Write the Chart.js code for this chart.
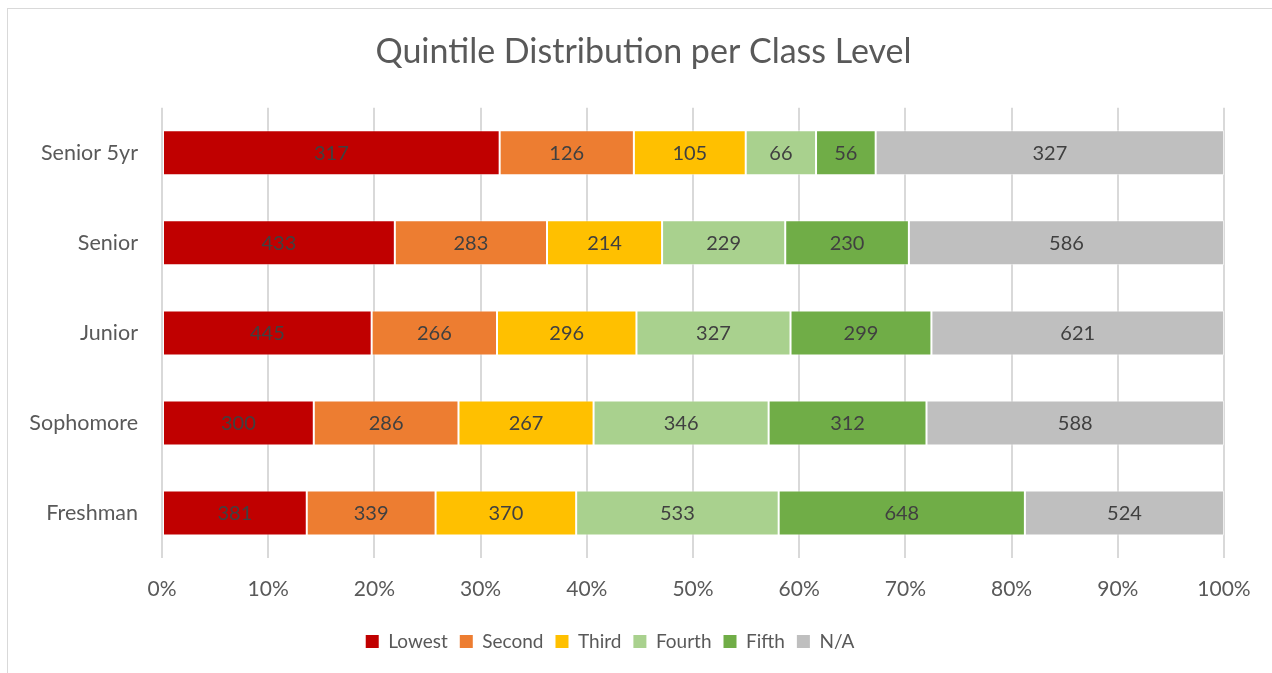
<!DOCTYPE html>
<html>
<head>
<meta charset="utf-8">
<script src="https://cdn.jsdelivr.net/npm/chart.js@4/dist/chart.umd.min.js"></script>
<style>
  html, body { margin: 0; padding: 0; background: #fff; overflow: hidden; }
  #frame { position: absolute; left: 7px; top: 8px; width: 1400px; height: 800px; border: 1px solid #d9d9d9; box-sizing: border-box; }
  #wrap { position: absolute; left: 0; top: 0; width: 1272px; height: 673px; }
</style>
</head>
<body>
<div id="frame"></div>
<div id="wrap"><canvas id="c" width="1272" height="673"></canvas></div>
<script>
const categories = ['Senior 5yr', 'Senior', 'Junior', 'Sophomore', 'Freshman'];
const lowest = [317, 433, 445, 300, 381];
const second = [126, 283, 266, 286, 339];
const third  = [105, 214, 296, 267, 370];
const fourth = [66, 229, 327, 346, 533];
const fifth  = [56, 230, 299, 312, 648];
const na     = [327, 586, 621, 588, 524];
const seriesNames = ['Lowest', 'Second', 'Third', 'Fourth', 'Fifth', 'N/A'];
const seriesColors = ['#C00000', '#ED7D31', '#FFC000', '#A9D18E', '#70AD47', '#BFBFBF'];
const xTickValues = [0, 10, 20, 30, 40, 50, 60, 70, 80, 90, 100];

const FONT = 'Lato, "Open Sans", sans-serif';
const counts = [lowest, second, third, fourth, fifth, na];
const totals = categories.map((_, i) => counts.reduce((s, arr) => s + arr[i], 0));

const datasets = counts.map((arr, k) => ({
  label: seriesNames[k],
  data: arr.map((v, i) => v / totals[i] * 100),
  raw: arr,
  backgroundColor: seriesColors[k],
  borderColor: 'rgba(255,255,255,0.55)',
  borderWidth: 1,
  borderSkipped: false,
  barPercentage: 0.5,
  categoryPercentage: 1.0,
  yAxisID: 'y'
}));

const valueLabels = {
  id: 'valueLabels',
  afterDatasetsDraw(chart) {
    const ctx = chart.ctx;
    ctx.save();
    ctx.font = '20px ' + FONT;
    ctx.fillStyle = '#404040';
    ctx.textAlign = 'center';
    ctx.textBaseline = 'middle';
    chart.data.datasets.forEach((ds, di) => {
      const meta = chart.getDatasetMeta(di);
      meta.data.forEach((bar, i) => {
        const cx = (bar.x + bar.base) / 2;
        ctx.fillText(String(ds.raw[i]), cx, bar.y + 1);
      });
    });
    ctx.restore();
  }
};

const legendShift = {
  id: 'legendShift',
  afterLayout(chart) {
    const lg = chart.legend;
    if (!lg) return;
    const d = 610 - (lg.left + lg.right) / 2;
    lg.left += d;
    lg.right += d;
  }
};

new Chart(document.getElementById('c'), {
  type: 'bar',
  data: { labels: categories, datasets },
  options: {
    indexAxis: 'y',
    responsive: false,
    animation: false,
    layout: { padding: { left: 15, right: 0, top: 0, bottom: 12 } },
    plugins: {
      title: {
        display: true,
        text: 'Quintile Distribution per Class Level',
        color: '#595959',
        font: { family: FONT, size: 34, weight: 'normal' },
        padding: { top: 32, bottom: 35 }
      },
      legend: {
        position: 'bottom',
        labels: {
          color: '#595959',
          font: { family: FONT, size: 19 },
          boxWidth: 13,
          boxHeight: 13,
          padding: 12,
          useBorderRadius: false,
          generateLabels(chart) {
            return chart.data.datasets.map((ds, i) => ({
              text: ds.label,
              fillStyle: ds.backgroundColor,
              strokeStyle: ds.backgroundColor,
              lineWidth: 0,
              fontColor: '#595959',
              datasetIndex: i,
              hidden: false
            }));
          }
        }
      },
      tooltip: { enabled: false }
    },
    scales: {
      x: {
        stacked: true,
        min: 0,
        max: 100,
        afterBuildTicks(axis) { axis.ticks = xTickValues.map(v => ({ value: v })); },
        afterFit(axis) { axis.height = 62; },
        ticks: {
          color: '#595959',
          font: { family: FONT, size: 21 },
          padding: 19,
          maxRotation: 0,
          callback: v => v + '%'
        },
        grid: { color: '#d9d9d9', lineWidth: 2, drawTicks: false },
        border: { display: false }
      },
      y: {
        stacked: true,
        afterFit(axis) { axis.width = 147; },
        ticks: {
          color: '#595959',
          font: { family: FONT, size: 21.5 },
          padding: 24
        },
        grid: { display: false, drawTicks: false },
        border: { display: false }
      },
      yRight: {
        type: 'category',
        axis: 'y',
        position: 'right',
        afterFit(axis) { axis.width = 48; },
        ticks: { display: false },
        grid: { display: false, drawTicks: false },
        border: { display: false }
      }
    }
  },
  plugins: [valueLabels, legendShift]
});
</script>
</body>
</html>
